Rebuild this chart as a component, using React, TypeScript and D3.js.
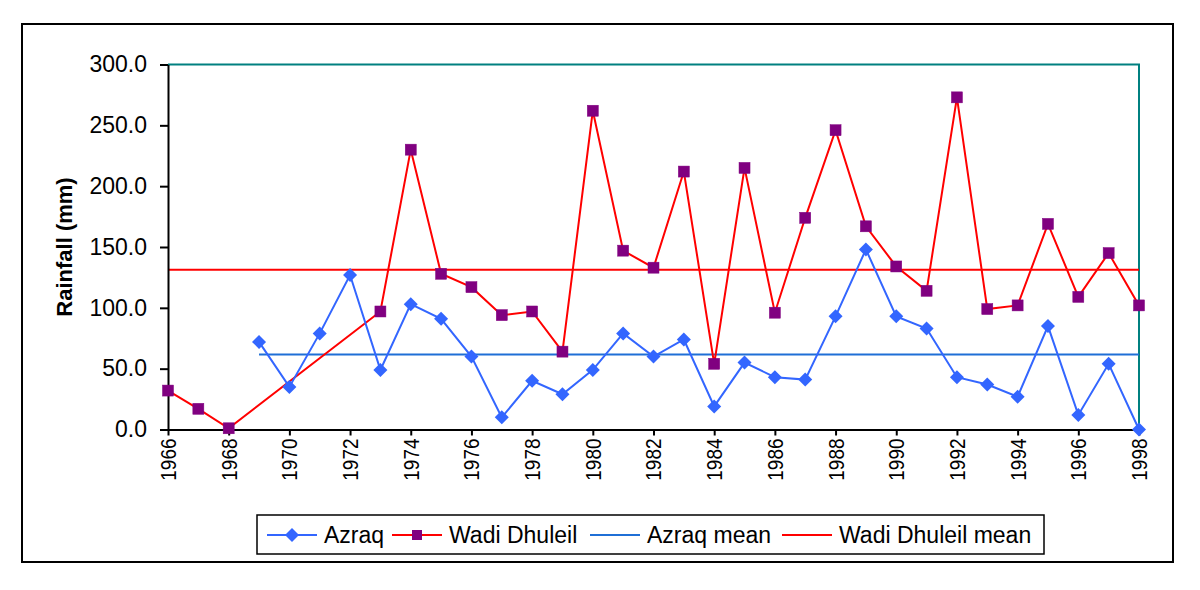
import * as d3 from 'd3'
import { useRef, useEffect } from 'react'

// years on the x axis
const years = [1966, 1967, 1968, 1969, 1970, 1971, 1972, 1973, 1974, 1975, 1976,
  1977, 1978, 1979, 1980, 1981, 1982, 1983, 1984, 1985, 1986, 1987, 1988, 1989,
  1990, 1991, 1992, 1993, 1994, 1995, 1996, 1997, 1998]

// Azraq rainfall (mm), no record before 1969
const azraq = [null, null, null, 72, 35, 79, 127, 49, 103, 91, 60,
  10, 40, 29, 49, 79, 60, 74, 19, 55, 43, 41, 93, 148,
  93, 83, 43, 37, 27, 85, 12, 54, 0]

// Wadi Dhuleil rainfall (mm), 1969-1972 missing
const wadiDhuleil = [32, 17, 1, null, null, null, null, 97, 230, 128, 117,
  94, 97, 64, 262, 147, 133, 212, 54, 215, 96, 174, 246, 167,
  134, 114, 273, 99, 102, 169, 109, 145, 102]

const azraqMean = [61.6]
const wadiMean = [131.2]

const yTicks = [0, 50, 100, 150, 200, 250, 300]
const xTicks = [1966, 1968, 1970, 1972, 1974, 1976, 1978, 1980, 1982, 1984, 1986,
  1988, 1990, 1992, 1994, 1996, 1998]

const W = 1200
const H = 590
const margin = { top: 64.5, right: 61, bottom: 160.5, left: 168 }

const azraqColor = '#3366FF'
const azraqMeanColor = '#1F6FD6'
const wadiColor = '#FF0000'
const wadiMarker = '#800080'
const frameColor = '#008080'
const font = 'Arial, "Liberation Sans", Helvetica, sans-serif'

const App = () => {
  const xAxis = useRef(null)
  const yAxis = useRef(null)

  const xScale = d3.scaleLinear()
    .domain([1966, 1998])
    .range([margin.left, W - margin.right])
  const yScale = d3.scaleLinear()
    .domain([0, 300])
    .range([H - margin.bottom, margin.top])

  const azraqPts = years.map((y, i) => [y, azraq[i]]).filter(d => d[1] !== null)
  const wadiPts = years.map((y, i) => [y, wadiDhuleil[i]]).filter(d => d[1] !== null)

  const line = d3.line().x(d => xScale(d[0])).y(d => yScale(d[1]))
  const diamond = d3.symbol().type(d3.symbolDiamond2).size(125)

  useEffect(() => {
    const ya = d3.axisLeft(yScale).tickValues(yTicks).tickFormat(d3.format('.1f'))
      .tickSize(8).tickSizeOuter(0).tickPadding(13)
    const xa = d3.axisBottom(xScale).tickValues(xTicks).tickFormat(d => String(d))
      .tickSize(6).tickSizeOuter(0)

    const gy = d3.select(yAxis.current).call(ya)
    gy.selectAll('path, line').attr('stroke', '#000').attr('stroke-width', 2)
    gy.selectAll('text').attr('font-family', font).attr('font-size', 23).attr('fill', '#000')
      .attr('transform', 'scale(1, 1.05)').attr('y', 0).attr('dy', '0.3em')

    const gx = d3.select(xAxis.current).call(xa)
    gx.selectAll('path, line').attr('stroke', '#000').attr('stroke-width', 2)
    gx.selectAll('text')
      .attr('font-family', font).attr('font-size', 19).attr('fill', '#000')
      .attr('transform', 'rotate(-90) scale(1, 1.12)')
      .attr('text-anchor', 'end')
      .attr('x', -9).attr('y', 0).attr('dy', '0.35em')
  })

  const legendItems = [
    { label: 'Azraq', color: azraqColor, marker: 'diamond', x: 267 },
    { label: 'Wadi Dhuleil', color: wadiColor, marker: 'square', x: 392 },
    { label: 'Azraq mean', color: azraqMeanColor, marker: null, x: 590 },
    { label: 'Wadi Dhuleil mean', color: wadiColor, marker: null, x: 782 },
  ]

  return (
    <svg width={W} height={H} style={{ position: 'absolute', left: 0, top: 0, background: '#fff' }}>
      <rect x={22} y={24} width={1151} height={538} fill="#fff" stroke="#000" strokeWidth={2} />

      {/* plot frame top and right */}
      <path
        d={`M${xScale(1966)},${yScale(300)}H${xScale(1998)}V${yScale(0)}`}
        fill="none" stroke={frameColor} strokeWidth={2}
      />

      {/* mean lines */}
      <line x1={xScale(1966)} x2={xScale(1998)} y1={yScale(wadiMean[0])} y2={yScale(wadiMean[0])}
        stroke={wadiColor} strokeWidth={2} />
      <line x1={xScale(1969)} x2={xScale(1998)} y1={yScale(azraqMean[0])} y2={yScale(azraqMean[0])}
        stroke={azraqMeanColor} strokeWidth={2} />

      <g ref={xAxis} transform={`translate(0, ${H - margin.bottom})`} />
      <g ref={yAxis} transform={`translate(${margin.left}, 0)`} />

      {/* series */}
      <path d={line(wadiPts)} fill="none" stroke={wadiColor} strokeWidth={2} />
      {wadiPts.map(d => (
        <rect key={'w' + d[0]} x={xScale(d[0]) - 5.5} y={yScale(d[1]) - 5.5} width={11} height={11}
          fill={wadiMarker} stroke={wadiMarker} strokeWidth={0.5} />
      ))}
      <path d={line(azraqPts)} fill="none" stroke={azraqColor} strokeWidth={2} />
      {azraqPts.map(d => (
        <path key={'a' + d[0]} d={diamond()} transform={`translate(${xScale(d[0])}, ${yScale(d[1])})`}
          fill={azraqColor} />
      ))}

      <text transform={`translate(72, ${(yScale(0) + yScale(300)) / 2}) rotate(-90)`}
        textAnchor="middle" fontFamily={font} fontWeight="bold" fontSize={22} fill="#000">
        Rainfall (mm)
      </text>

      {/* legend */}
      <rect x={257} y={515} width={787} height={39} fill="#fff" stroke="#000" strokeWidth={1.5} />
      {legendItems.map(it => (
        <g key={it.label}>
          <line x1={it.x} x2={it.x + 50} y1={535} y2={535} stroke={it.color} strokeWidth={2} />
          {it.marker === 'diamond' && (
            <path d={diamond()} transform={`translate(${it.x + 25}, 535)`} fill={azraqColor} />
          )}
          {it.marker === 'square' && (
            <rect x={it.x + 20} y={530} width={10} height={10} fill={wadiMarker} />
          )}
          <text x={it.x + 57} y={535} dy="0.35em" fontFamily={font} fontSize={23} fill="#000">
            {it.label}
          </text>
        </g>
      ))}
    </svg>
  )
}

export default App
